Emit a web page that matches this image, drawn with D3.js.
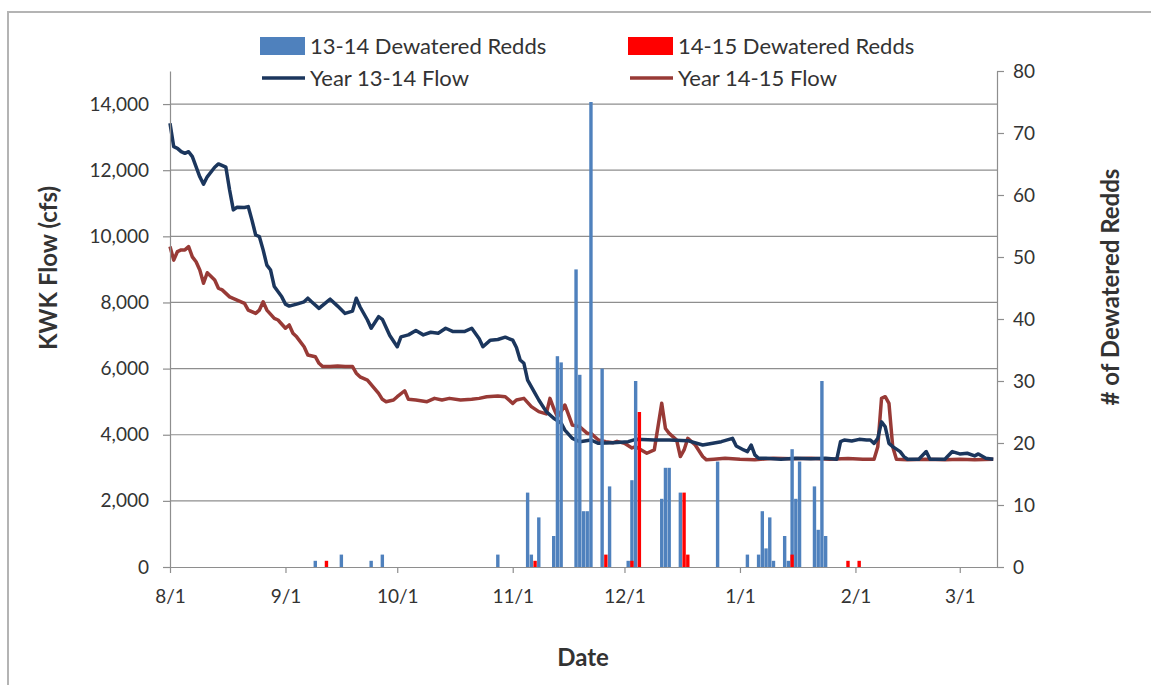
<!DOCTYPE html>
<html>
<head>
<meta charset="utf-8">
<script src="https://cdn.jsdelivr.net/npm/d3@7"></script>
<style>
  body { margin: 0; background: #fff; }
  text { font-family: Lato, "Open Sans", sans-serif; fill: #333; }
</style>
</head>
<body>
<script>
// redds (right axis), "M/D" dates on the Aug-Mar season
var redds1314 = [
  ["9/9",1],["9/16",2],["9/24",1],["9/27",2],["10/28",2],
  ["11/5",12],["11/6",2],["11/8",8],["11/12",5],["11/13",34],["11/14",33],
  ["11/18",48],["11/19",31],["11/20",9],["11/21",9],["11/22",75],["11/25",32],["11/27",13],
  ["12/2",1],["12/3",14],["12/4",30],["12/11",11],["12/12",16],["12/13",16],["12/16",12],["12/26",17],
  ["1/3",2],["1/6",2],["1/7",9],["1/8",3],["1/9",8],["1/10",1],["1/13",5],["1/14",1],
  ["1/15",19],["1/16",11],["1/17",17],["1/21",13],["1/22",6],["1/23",30],["1/24",5]
];
var redds1415 = [
  ["9/12",1],["11/7",1],["11/26",2],["12/3",1],["12/5",25],["12/17",12],["12/18",2],
  ["1/15",2],["1/30",1],["2/2",1]
];

// flow in cfs (left axis)
var flow1314 = [
  ["8/1",13420],["8/2",12710],["8/3",12660],["8/4",12560],["8/5",12510],["8/6",12560],["8/7",12410],
  ["8/9",11800],["8/10",11580],["8/11",11800],["8/13",12090],["8/14",12190],["8/16",12090],
  ["8/17",11400],["8/18",10800],["8/19",10880],["8/21",10870],["8/22",10900],["8/23",10490],
  ["8/24",10040],["8/25",9990],["8/26",9590],["8/27",9130],["8/28",8980],["8/29",8480],
  ["8/31",8170],["9/1",7950],["9/2",7890],["9/4",7950],["9/6",8020],["9/7",8130],["9/8",8020],
  ["9/10",7820],["9/13",8100],["9/15",7890],["9/17",7670],["9/19",7740],["9/20",8130],
  ["9/21",7870],["9/23",7470],["9/24",7220],["9/26",7570],["9/27",7490],["9/29",7000],
  ["10/1",6660],["10/2",6960],["10/4",7020],["10/6",7150],["10/8",7020],["10/10",7100],
  ["10/12",7070],["10/14",7220],["10/16",7120],["10/19",7120],["10/21",7220],["10/23",6900],
  ["10/24",6660],["10/26",6860],["10/28",6880],["10/30",6950],["11/1",6860],["11/2",6640],
  ["11/3",6260],["11/4",6160],["11/5",5650],["11/7",5250],["11/8",5050],["11/10",4700],
  ["11/12",4500],["11/14",4350],["11/15",4140],["11/17",3890],["11/19",3790],["11/22",3840],
  ["11/24",3740],["11/28",3760],["12/2",3790],["12/4",3860],["12/9",3840],["12/13",3840],
  ["12/18",3820],["12/22",3690],["12/27",3790],["12/30",3890],["12/31",3660],["1/2",3540],
  ["1/3",3490],["1/4",3690],["1/5",3390],["1/6",3290],["1/8",3290],["1/12",3260],["1/16",3290],
  ["1/20",3270],["1/24",3290],["1/27",3260],["1/28",3790],["1/29",3840],["1/31",3810],
  ["2/2",3860],["2/4",3840],["2/5",3840],["2/6",3740],["2/7",3890],["2/8",4390],["2/9",4240],
  ["2/10",3740],["2/11",3640],["2/13",3490],["2/14",3340],["2/15",3260],["2/18",3260],
  ["2/20",3490],["2/21",3260],["2/25",3260],["2/27",3490],["3/1",3420],["3/3",3440],
  ["3/5",3360],["3/6",3420],["3/8",3290],["3/10",3260]
];
var flow1415 = [
  ["8/1",9690],["8/2",9280],["8/3",9540],["8/4",9590],["8/5",9590],["8/6",9690],["8/7",9380],
  ["8/8",9230],["8/9",8980],["8/10",8580],["8/11",8900],["8/13",8680],["8/14",8430],["8/15",8380],
  ["8/17",8170],["8/19",8070],["8/21",7970],["8/22",7770],["8/24",7670],["8/25",7770],
  ["8/26",8020],["8/27",7770],["8/29",7520],["8/30",7470],["9/1",7220],["9/2",7320],["9/3",7070],
  ["9/4",6960],["9/6",6660],["9/7",6410],["9/9",6360],["9/10",6160],["9/11",6060],["9/13",6060],
  ["9/15",6080],["9/17",6060],["9/19",6060],["9/20",5860],["9/21",5750],["9/23",5650],
  ["9/26",5250],["9/27",5070],["9/28",5000],["9/30",5050],["10/1",5150],["10/3",5330],
  ["10/4",5070],["10/6",5050],["10/9",5000],["10/11",5100],["10/13",5050],["10/15",5100],
  ["10/18",5050],["10/21",5070],["10/23",5100],["10/25",5150],["10/28",5170],["10/30",5150],
  ["11/1",4950],["11/2",5050],["11/4",5100],["11/6",4850],["11/8",4700],["11/10",4630],
  ["11/11",5100],["11/12",4800],["11/13",4540],["11/14",4700],["11/15",4900],["11/16",4600],
  ["11/17",4290],["11/19",4240],["11/21",4040],["11/22",4040],["11/24",3840],["11/26",3790],
  ["11/28",3760],["11/29",3800],["12/1",3740],["12/3",3600],["12/4",3640],["12/7",3440],
  ["12/9",3540],["12/11",4950],["12/12",4190],["12/13",4040],["12/15",3840],["12/16",3340],
  ["12/17",3540],["12/18",3890],["12/20",3690],["12/22",3340],["12/23",3240],["12/25",3260],
  ["12/28",3290],["1/1",3260],["1/5",3240],["1/10",3290],["1/15",3270],["1/20",3290],
  ["1/25",3260],["1/30",3280],["2/3",3260],["2/6",3260],["2/7",3640],["2/8",5100],["2/9",5150],
  ["2/10",4950],["2/11",3640],["2/12",3260],["2/15",3240],["2/20",3260],["2/25",3240],
  ["3/1",3260],["3/5",3240],["3/10",3260]
];

var flowTicks = [0, 2000, 4000, 6000, 8000, 10000, 12000, 14000];
var reddTicks = [0, 10, 20, 30, 40, 50, 60, 70, 80];
var monthTicks = ["8/1","9/1","10/1","11/1","12/1","1/1","2/1","3/1"];

var legendItems = [
  {label: "13-14 Dewatered Redds", type: "bar", color: "#4F81BD"},
  {label: "14-15 Dewatered Redds", type: "bar", color: "#FF0000"},
  {label: "Year 13-14 Flow", type: "line", color: "#1B365D"},
  {label: "Year 14-15 Flow", type: "line", color: "#983A36"}
];

// season date: Aug-Dec in 2013, Jan-Mar in 2014
function seasonDate(s) {
  var p = s.split("/"), m = +p[0], d = +p[1];
  return new Date(m >= 8 ? 2013 : 2014, m - 1, d);
}

var W = 1151, H = 685;
var plotLeft = 170, plotRight = 997, plotTop = 71, plotBottom = 567;

var svg = d3.select("body").append("svg")
  .attr("width", W)
  .attr("height", H);

// outer chart border
svg.append("rect")
  .attr("x", 8).attr("y", 12)
  .attr("width", W).attr("height", H)
  .attr("fill", "none")
  .attr("stroke", "#b4b4b4")
  .attr("stroke-width", 2);

var x = d3.scaleTime()
  .domain([new Date(2013, 7, 1), new Date(2014, 2, 11)])
  .range([plotLeft, plotRight]);
var yFlow = d3.scaleLinear().domain([0, 15000]).range([plotBottom, plotTop]);
var yRedd = d3.scaleLinear().domain([0, 80]).range([plotBottom, plotTop]);

// gridlines
svg.append("g")
  .selectAll("line")
  .data(flowTicks.slice(1))
  .enter()
  .append("line")
  .attr("x1", plotLeft).attr("x2", plotRight)
  .attr("y1", function(d) { return yFlow(d); })
  .attr("y2", function(d) { return yFlow(d); })
  .attr("stroke", "#8e8e8e")
  .attr("stroke-width", 1.2);

// flow lines
var line = d3.line()
  .x(function(d) { return x(seasonDate(d[0])); })
  .y(function(d) { return yFlow(d[1]); });

svg.append("path")
  .datum(flow1415)
  .attr("d", line)
  .attr("fill", "none")
  .attr("stroke", legendItems[3].color)
  .attr("stroke-width", 3.5)
  .attr("stroke-linejoin", "round");

svg.append("path")
  .datum(flow1314)
  .attr("d", line)
  .attr("fill", "none")
  .attr("stroke", legendItems[2].color)
  .attr("stroke-width", 3.5)
  .attr("stroke-linejoin", "round");

// redd bars
var barW = 3.4;
function drawBars(data, color) {
  svg.append("g")
    .selectAll("rect")
    .data(data)
    .enter()
    .append("rect")
    .attr("x", function(d) { return x(seasonDate(d[0])) - barW / 2; })
    .attr("y", function(d) { return yRedd(d[1]); })
    .attr("width", barW)
    .attr("height", function(d) { return yRedd(0) - yRedd(d[1]); })
    .attr("fill", color);
}
drawBars(redds1314, legendItems[0].color);
drawBars(redds1415, legendItems[1].color);

// axes
function styleAxis(g) {
  g.selectAll(".domain").attr("stroke", "#8e8e8e").attr("stroke-width", 1.2);
  g.selectAll(".tick line").attr("stroke", "#8e8e8e").attr("stroke-width", 1.2);
  g.selectAll(".tick text")
    .style("font-family", "Lato, 'Open Sans', sans-serif")
    .style("font-size", "19px")
    .attr("fill", "#333");
}

svg.append("g")
  .attr("transform", "translate(" + plotLeft + ",0)")
  .call(d3.axisLeft(yFlow).tickValues(flowTicks).tickFormat(d3.format(",")).tickSize(7).tickSizeOuter(0).tickPadding(14))
  .call(styleAxis);

svg.append("g")
  .attr("transform", "translate(" + plotRight + ",0)")
  .call(d3.axisRight(yRedd).tickValues(reddTicks).tickSize(7).tickSizeOuter(0).tickPadding(9))
  .call(styleAxis);

svg.append("g")
  .attr("transform", "translate(0," + plotBottom + ")")
  .call(d3.axisBottom(x).tickValues(monthTicks.map(seasonDate))
    .tickFormat(d3.timeFormat("%-m/%-d")).tickSize(6).tickSizeOuter(0).tickPadding(17))
  .call(styleAxis);

// axis titles
svg.append("text")
  .attr("transform", "translate(57,268) rotate(-90)")
  .attr("text-anchor", "middle")
  .style("font-size", "24px")
  .style("font-weight", "bold")
  .text("KWK Flow (cfs)");

svg.append("text")
  .attr("transform", "translate(1119,287) rotate(-90)")
  .attr("text-anchor", "middle")
  .style("font-size", "24px")
  .style("font-weight", "bold")
  .text("# of Dewatered Redds");

svg.append("text")
  .attr("x", 583).attr("y", 666)
  .attr("text-anchor", "middle")
  .style("font-size", "24px")
  .style("font-weight", "bold")
  .text("Date");

// legend
var legend = svg.append("g")
  .selectAll("g")
  .data(legendItems)
  .enter()
  .append("g")
  .attr("transform", function(d, i) {
    return "translate(" + (i % 2 ? 628 : 260) + "," + (i < 2 ? 46 : 78) + ")";
  });

legend.filter(function(d) { return d.type === "bar"; })
  .append("rect")
  .attr("x", 0).attr("y", -9)
  .attr("width", 45).attr("height", 18)
  .attr("fill", function(d) { return d.color; });

legend.filter(function(d) { return d.type === "line"; })
  .append("line")
  .attr("x1", 2).attr("x2", 45)
  .attr("y1", 0).attr("y2", 0)
  .attr("stroke", function(d) { return d.color; })
  .attr("stroke-width", 3.5);

legend.append("text")
  .attr("x", 50).attr("y", 8)
  .style("font-size", "22px")
  .text(function(d) { return d.label; });
</script>
</body>
</html>
